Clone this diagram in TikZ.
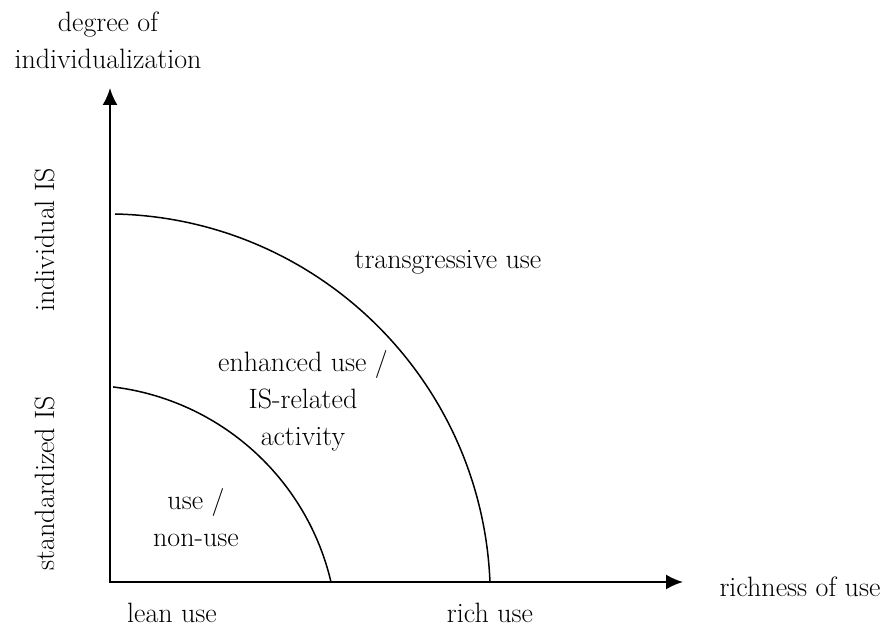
\documentclass[tikz,border=0pt]{standalone}
\usetikzlibrary{arrows.meta}
\begin{document}
\begin{tikzpicture}[x=1pt,y=1pt,
  lbl/.style={inner sep=0pt,font=\fontsize{28}{37}\selectfont,align=center},
  axis/.style={line width=2pt,-{Latex[length=17pt,width=15pt]}},
  zone/.style={line width=1.5pt}]
\useasboundingbox (0,0) rectangle (886,631);
% axes
\coordinate (O) at (110,49);
\coordinate (ytip) at (110,543);
\coordinate (xtip) at (683,49);
\draw[axis] (O) -- (ytip);
\draw[axis] ([xshift=-1pt]O) -- (xtip);
% zone boundaries (circular arcs)
\coordinate (cin) at (82.4,-9.5);
\coordinate (cout) at (106.7,33.5);
\draw[zone] (cin) ++(83.1:255.4) arc[start angle=83.1,end angle=13.24,radius=255.4];
\draw[zone] (cout) ++(88.76:383.6) arc[start angle=88.76,end angle=2.32,radius=383.6];
% axis titles
\node[lbl] (ytitle) at (108,591) {degree of\\individualization};
\node[lbl] (xtitle) at (800,44) {richness of use};
\node[lbl,rotate=90] (indiv) at (45,391) {individual IS};
\node[lbl,rotate=90] (stand) at (45,148) {standardized IS};
\node[lbl] (lean) at (172,18) {lean use};
\node[lbl] (rich) at (490,18) {rich use};
% zone labels
\node[lbl] (trans) at (448,369) {transgressive use};
\node[lbl] (enh) at (303,230) {enhanced use /\\IS-related\\activity};
\node[lbl] (use) at (196,113) {use /\\non-use};
\end{tikzpicture}
\end{document}
